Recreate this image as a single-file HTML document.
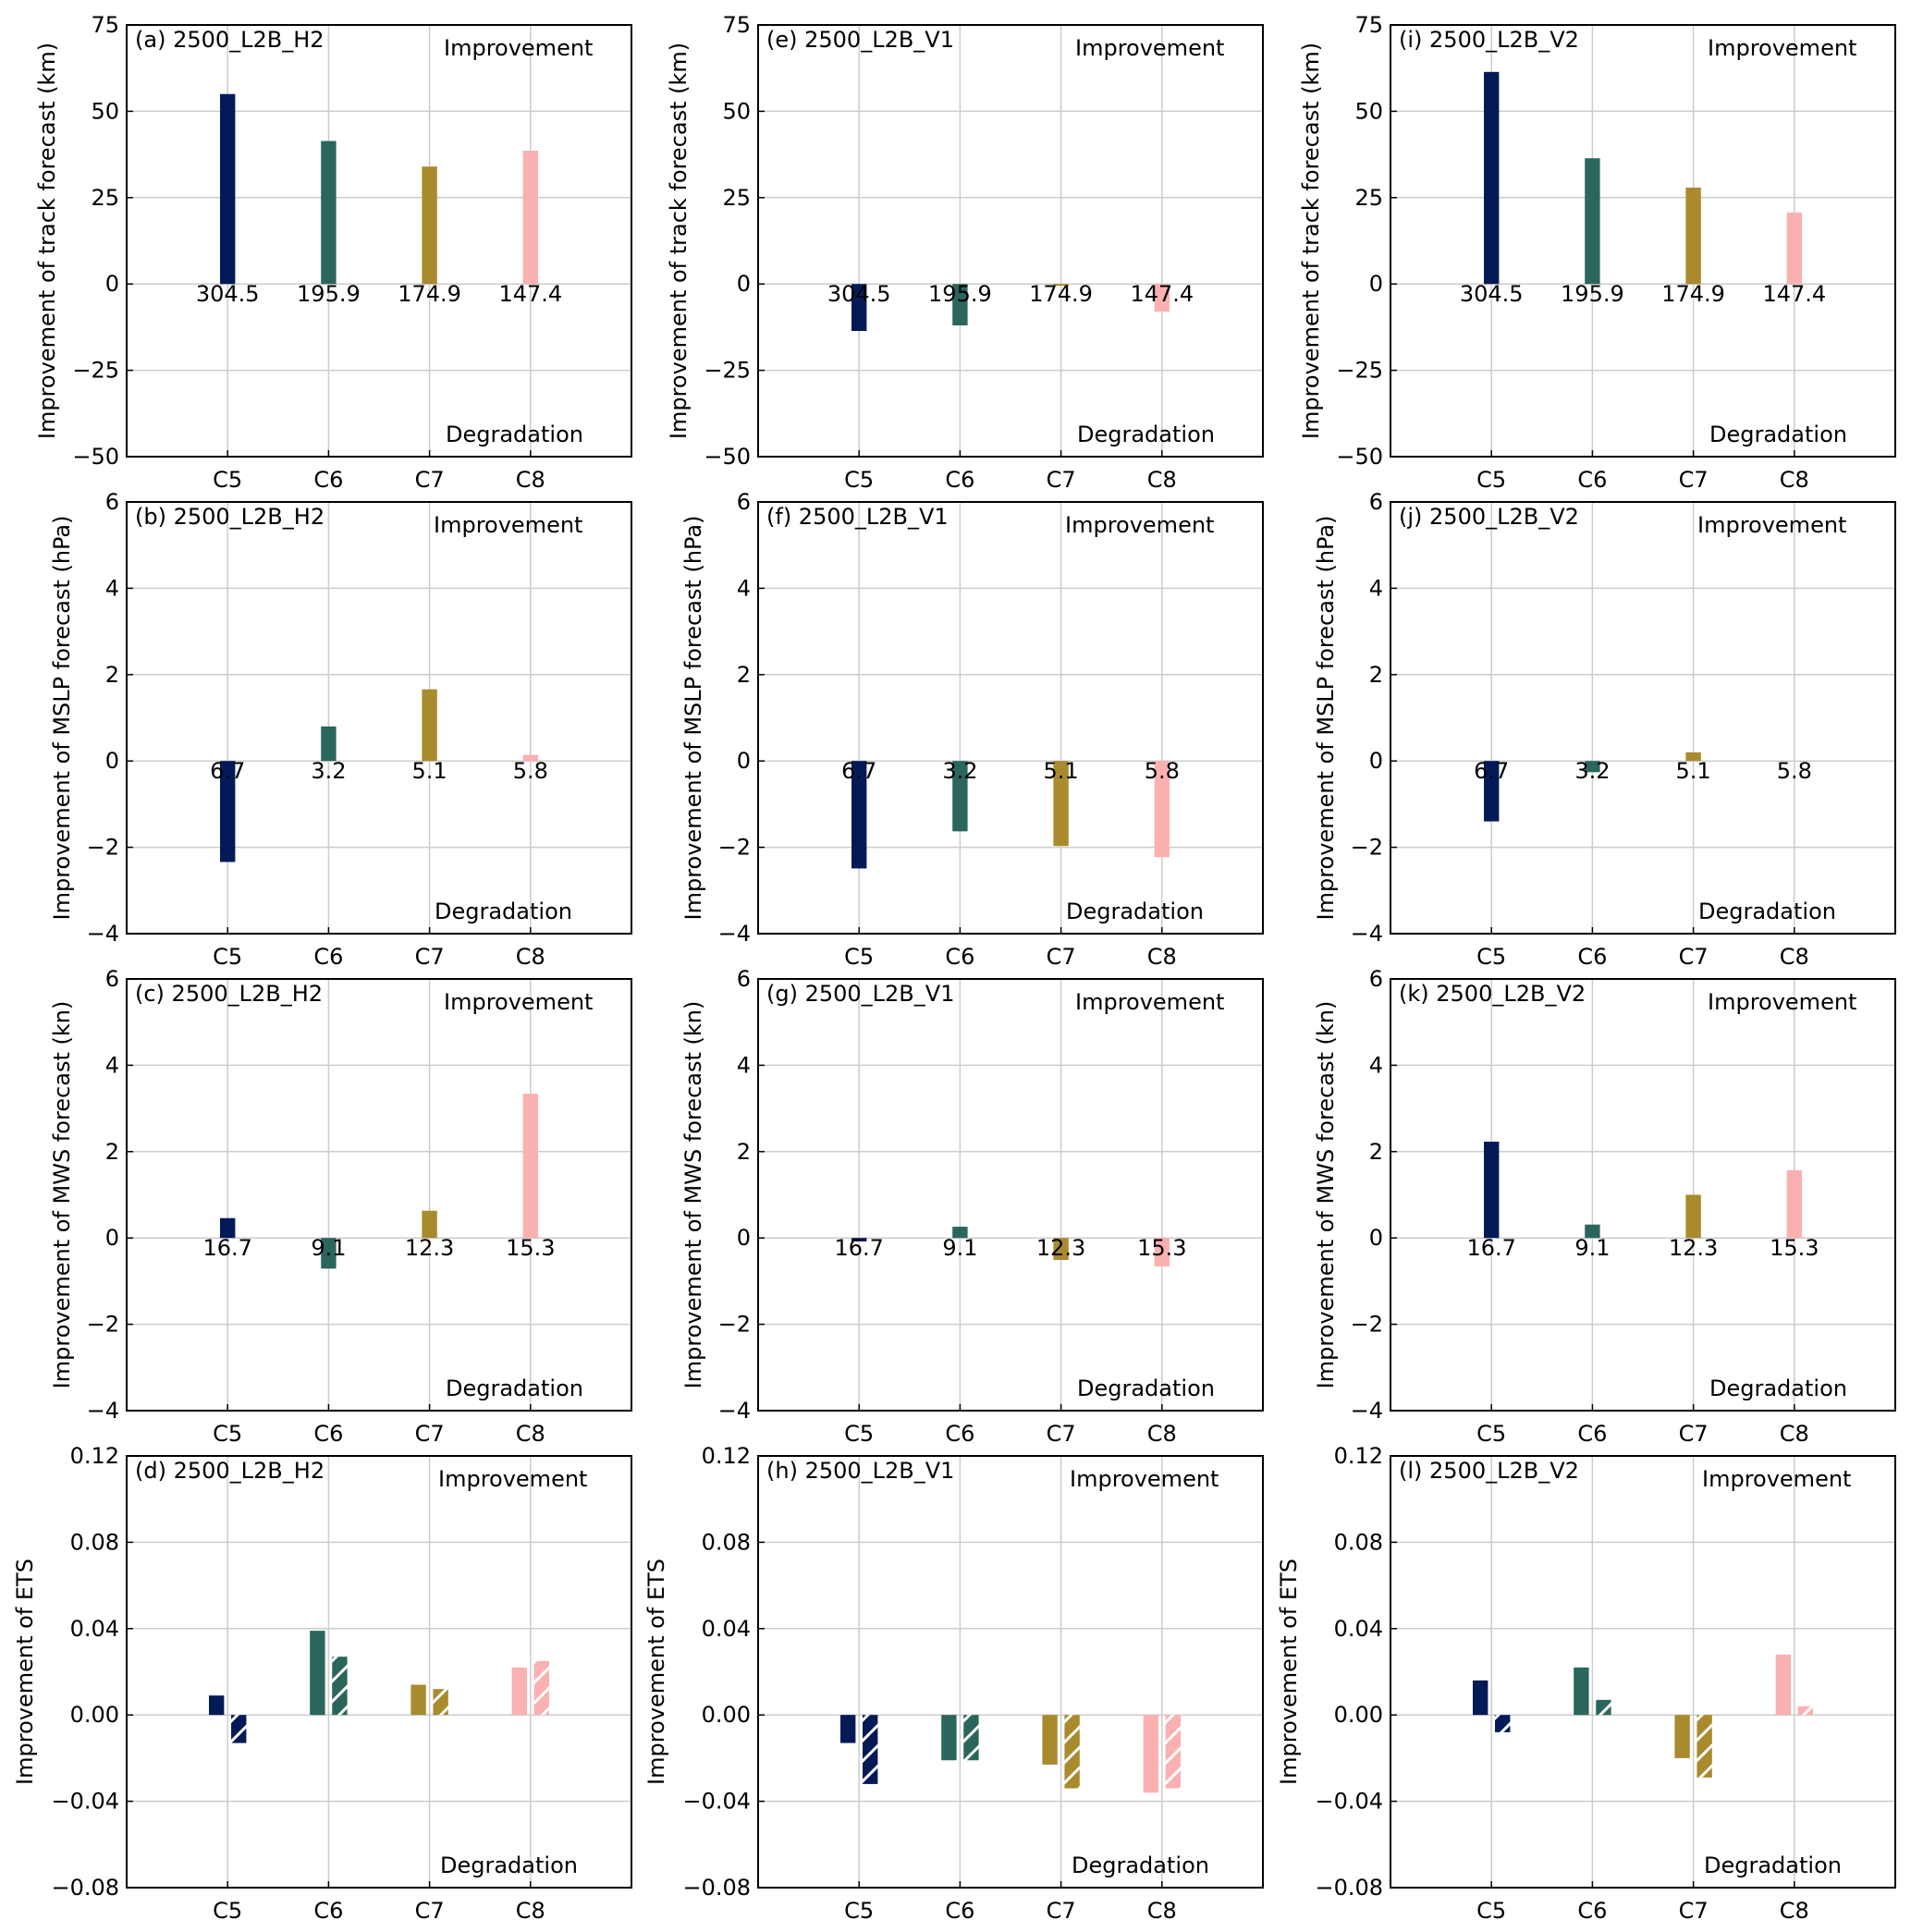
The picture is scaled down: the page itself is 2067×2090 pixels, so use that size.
<!DOCTYPE html>
<html><head><meta charset="utf-8"><style>
body{margin:0;background:#fff}
svg{display:block;font-family:"DejaVu Sans","Liberation Sans",sans-serif}
</style></head><body>
<svg id="fig" width="2067" height="2090" viewBox="0 0 2067 2090"></svg>
<script>
const categories=["C5","C6","C7","C8"];
const colors=["#031a57","#2b665c","#a98a2d","#fbb1b1"];
const trackA=[55,41.4,34,38.6], trackE=[-13.6,-12,-0.5,-8], trackI=[61.4,36.4,27.9,20.7];
const trackLabels=["304.5","195.9","174.9","147.4"];
const mslpB=[-2.34,0.8,1.66,0.14], mslpF=[-2.49,-1.63,-1.97,-2.23], mslpJ=[-1.4,-0.26,0.2,0];
const mslpLabels=["6.7","3.2","5.1","5.8"];
const mwsC=[0.46,-0.71,0.63,3.34], mwsG=[-0.08,0.26,-0.51,-0.66], mwsK=[2.23,0.31,1.0,1.57];
const mwsLabels=["16.7","9.1","12.3","15.3"];
const etsDsolid=[0.009,0.039,0.014,0.022], etsDhatch=[-0.013,0.027,0.012,0.025];
const etsHsolid=[-0.013,-0.021,-0.023,-0.036], etsHhatch=[-0.032,-0.021,-0.034,-0.034];
const etsLsolid=[0.016,0.022,-0.02,0.028], etsLhatch=[-0.008,0.007,-0.029,0.004];
const trackTicks=[-50,-25,0,25,50,75], trackTickLabels=["\u221250","\u221225","0","25","50","75"];
const smallTicks=[-4,-2,0,2,4,6], smallTickLabels=["\u22124","\u22122","0","2","4","6"];
const etsTicks=[-0.08,-0.04,0,0.04,0.08,0.12], etsTickLabels=["\u22120.08","\u22120.04","0.00","0.04","0.08","0.12"];

const NS="http://www.w3.org/2000/svg";
const svg=document.getElementById('fig');
const defs=document.createElementNS(NS,'defs');svg.appendChild(defs);
colors.forEach((c,i)=>{
  const p=document.createElementNS(NS,'pattern');
  p.setAttribute('id','hatch'+i);p.setAttribute('patternUnits','userSpaceOnUse');
  p.setAttribute('width','22');p.setAttribute('height','22');
  p.innerHTML=`<rect width="22" height="22" fill="${c}"/><path d="M-2,24 L24,-2 M-13,13 L13,-13 M9,35 L35,9" stroke="#fff" stroke-width="3"/>`;
  defs.appendChild(p);
});
function mk(tag,attrs,parent){const e=document.createElementNS(NS,tag);for(const k in attrs)e.setAttribute(k,attrs[k]);(parent||svg).appendChild(e);return e;}

const colLeft=[137,820,1504], W=546, rowTop=[27,543,1059,1575], H=467;
const impOff=[343,332,343,337], degOff=[345,333,345,339];
const rows=[
 {ticks:trackTicks,tl:trackTickLabels,min:-50,max:75,ylabel:"Improvement of track forecast (km)",labels:trackLabels,data:[trackA,trackE,trackI],ylx:51},
 {ticks:smallTicks,tl:smallTickLabels,min:-4,max:6,ylabel:"Improvement of MSLP forecast (hPa)",labels:mslpLabels,data:[mslpB,mslpF,mslpJ],ylx:67},
 {ticks:smallTicks,tl:smallTickLabels,min:-4,max:6,ylabel:"Improvement of MWS forecast (kn)",labels:mwsLabels,data:[mwsC,mwsG,mwsK],ylx:67},
 {ticks:etsTicks,tl:etsTickLabels,min:-0.08,max:0.12,ylabel:"Improvement of ETS",ets:[[etsDsolid,etsDhatch],[etsHsolid,etsHhatch],[etsLsolid,etsLhatch]],ylx:27}
];
const letters=[["a","e","i"],["b","f","j"],["c","g","k"],["d","h","l"]];
const names=["2500_L2B_H2","2500_L2B_V1","2500_L2B_V2"];

rows.forEach((r,ri)=>{
 for(let ci=0;ci<3;ci++){
  const L=colLeft[ci],T=rowTop[ri];
  const g=mk('g',{});
  
  
  const xs=v=>L+(v+1)/5*W;
  const ys=v=>T+H-(v-r.min)/(r.max-r.min)*H;
  r.ticks.forEach((t,k)=>{
   const y=ys(t);
   const gl=mk('line',{x1:L,x2:L+W,y1:y,y2:y,stroke:'#cccccc','stroke-width':1.5},g);
   
   
   mk('line',{x1:L,x2:L+7,y1:y,y2:y,stroke:'#000','stroke-width':1.5},g);
   const tx=mk('text',{x:L-8,y:y+8,'text-anchor':'end','font-size':24},g);
   tx.textContent=r.tl[k];
   
   
  });
  categories.forEach((c,k)=>{
   const x=xs(k);
   const gl=mk('line',{x1:x,x2:x,y1:T,y2:T+H,stroke:'#cccccc','stroke-width':1.5},g);
   
   
   mk('line',{x1:x,x2:x,y1:T+H-7,y2:T+H,stroke:'#000','stroke-width':1.5},g);
   const tx=mk('text',{x:x,y:T+H+33,'text-anchor':'middle','font-size':24},g);
   tx.textContent=c;
   
   
  });
  if(r.data){
   const d=r.data[ci];
   d.forEach((v,k)=>{
    const x=xs(k)-0.075*W/5, w=0.15*W/5;
    const y0=ys(0),y1=ys(v);
    const b=mk('rect',{x:x,y:Math.min(y0,y1),width:w,height:Math.abs(y1-y0),fill:colors[k]},g);
    
    
   });
   r.labels.forEach((lab,k)=>{
    const tx=mk('text',{x:xs(k),y:ys(0)+19,'text-anchor':'middle','font-size':24},g);
    tx.textContent=lab;
    
    
   });
  } else {
   const [sol,hat]=r.ets[ci];
   const w=0.15*W/5;
   [sol,hat].forEach((arr,si)=>{
    arr.forEach((v,k)=>{
     const cx=xs(k)+(si?0.11:-0.11)*W/5;
     const y0=ys(0),y1=ys(v);
     const b=mk('rect',{x:cx-w/2,y:Math.min(y0,y1),width:w,height:Math.abs(y1-y0),fill:si?`url(#hatch${k})`:colors[k]},g);
     
     
    });
   });
  }
  const fr=mk('rect',{x:L,y:T,width:W,height:H,fill:'none',stroke:'#000','stroke-width':2},g);
  
  
  const t=mk('text',{x:L+9,y:T+24,'font-size':24},g);
  t.textContent=`(${letters[ri][ci]}) ${names[ci]}`;
  
  
  const im=mk('text',{x:L+impOff[ri],y:T+33,'font-size':24},g);
  im.textContent='Improvement';
  
  
  const dg=mk('text',{x:L+degOff[ri],y:T+H-16,'font-size':24},g);
  dg.textContent='Degradation';
  
  
  const yl=mk('text',{x:0,y:0,'text-anchor':'middle','font-size':24,transform:`translate(${L-137+r.ylx+8},${T+H/2}) rotate(-90)`},g);
  yl.textContent=r.ylabel;
  
  
 }
});
</script>
</body></html>
